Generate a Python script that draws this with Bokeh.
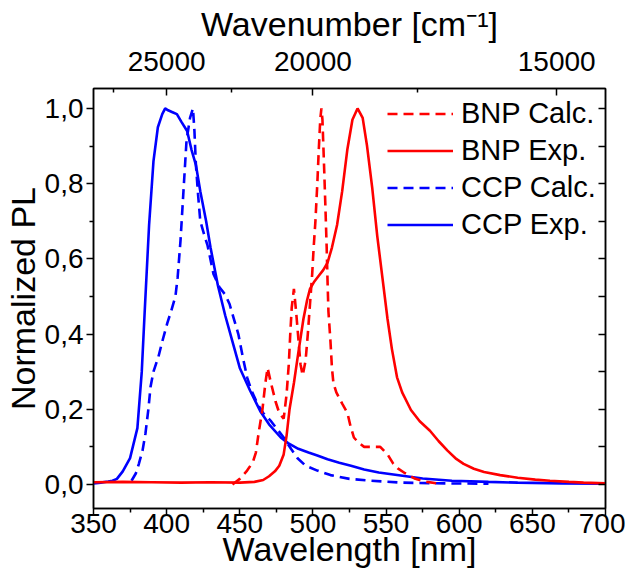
from bokeh.plotting import figure
from bokeh.models import (LinearAxis, FixedTicker, CustomJSTickFormatter, Legend,
                          LegendItem, Range1d)
from bokeh.embed import file_html
from bokeh.resources import INLINE

# ---------------- data ----------------
ccp_exp_wl = [350, 355, 360, 363, 366, 370, 375, 380, 383, 385, 388, 391, 394, 397,
              399, 401, 404, 407, 410, 414, 417, 420, 423, 427, 430, 435, 440, 445,
              450, 457, 464, 470, 478, 483, 490, 497, 503, 510, 518, 526, 535, 545,
              560, 575, 595, 620, 640, 670, 700]
ccp_exp = [0.003, 0.005, 0.008, 0.01, 0.015, 0.035, 0.07, 0.15, 0.3, 0.46, 0.69, 0.86,
           0.95, 0.985, 1.0, 0.995, 0.99, 0.985, 0.965, 0.94, 0.89, 0.85, 0.78, 0.70,
           0.63, 0.53, 0.45, 0.38, 0.31, 0.25, 0.195, 0.16, 0.125, 0.11, 0.095, 0.085,
           0.077, 0.067, 0.058, 0.05, 0.04, 0.032, 0.024, 0.016, 0.01, 0.007, 0.005,
           0.003, 0.002]

ccp_calc_wl = [376, 379, 381, 383.5, 385.5, 387.5, 389, 391, 394.4, 397, 400.5, 403,
               406, 407.5, 409.5, 411.5, 413.6, 416, 418, 419, 420, 421.5, 423, 426,
               428, 432, 436, 440, 443, 446, 449, 452, 455, 458, 462, 466, 471, 476,
               480, 485, 489.5, 495, 503, 512, 525, 540, 560, 590, 620]
ccp_calc = [0.01, 0.03, 0.055, 0.09, 0.135, 0.2, 0.26, 0.3, 0.34, 0.38, 0.43, 0.46,
            0.5, 0.55, 0.65, 0.78, 0.915, 0.975, 1.0, 0.94, 0.85, 0.77, 0.70, 0.66,
            0.635, 0.56, 0.525, 0.505, 0.48, 0.44, 0.40, 0.34, 0.285, 0.25, 0.215,
            0.19, 0.17, 0.145, 0.125, 0.095, 0.07, 0.05, 0.037, 0.025, 0.015, 0.01,
            0.005, 0.003, 0.002]

bnp_exp_wl = [350, 370, 390, 410, 430, 450, 460, 466, 470, 474, 477, 480, 482, 484,
              487, 490, 493.5, 496, 498, 501, 504, 507, 510, 513, 516.5, 520, 523.5,
              527, 530.5, 534, 537, 540.5, 544, 547.5, 551, 554, 557.5, 561, 567, 573,
              580, 586, 592, 598, 603, 610, 617, 628, 640, 652, 662, 675, 685, 700]
bnp_exp = [0.006, 0.007, 0.006, 0.005, 0.006, 0.005, 0.007, 0.012, 0.022, 0.035, 0.05,
           0.08, 0.13, 0.2, 0.27, 0.35, 0.44, 0.49, 0.52, 0.54, 0.555, 0.57, 0.59,
           0.63, 0.69, 0.78, 0.89, 0.97, 1.0, 0.975, 0.9, 0.79, 0.66, 0.55, 0.44,
           0.36, 0.285, 0.245, 0.198, 0.168, 0.143, 0.115, 0.09, 0.068, 0.055, 0.042,
           0.033, 0.025, 0.018, 0.013, 0.01, 0.007, 0.005, 0.003]

bnp_calc_wl = [445, 450, 455, 459, 461, 463, 465.5, 467.5, 469, 471, 474.5, 477, 480,
               482, 483.5, 484.5, 485.5, 487, 488.5, 490, 491.5, 493, 495, 496.5, 498,
               499.5, 500.5, 501.7, 503, 504, 505, 505.8, 506.5, 507.5, 508.6, 509.4,
               510, 510.6, 512, 513, 514, 516, 520, 523.6, 525.7, 528, 531, 535, 540,
               546, 551, 555, 558, 563, 570, 578, 585]
bnp_calc = [0.0, 0.015, 0.037, 0.06, 0.085, 0.14, 0.2, 0.27, 0.31, 0.275, 0.22, 0.19,
            0.175, 0.24, 0.32, 0.4, 0.47, 0.52, 0.46, 0.39, 0.32, 0.29, 0.33, 0.40,
            0.48, 0.56, 0.63, 0.7, 0.8, 0.89, 0.97, 1.0, 0.97, 0.86, 0.73, 0.63, 0.54,
            0.46, 0.38, 0.31, 0.27, 0.245, 0.215, 0.19, 0.155, 0.125, 0.112, 0.1, 0.1,
            0.1, 0.08, 0.055, 0.043, 0.03, 0.015, 0.007, 0.003]

x_ticks = [350, 400, 450, 500, 550, 600, 650, 700]
x_minor = [375, 425, 475, 525, 575, 625, 675]
y_ticks = [0.0, 0.2, 0.4, 0.6, 0.8, 1.0]
y_minor = [0.1, 0.3, 0.5, 0.7, 0.9]
wn_ticks = [25000, 20000, 15000]
wn_minor = [27500, 22500, 17500]

FONT = "Liberation Sans"
RED = "#ff0000"
BLUE = "#0000ff"

p = figure(width=625, height=581, output_backend="svg", toolbar_location=None,
           x_range=Range1d(350, 700), y_range=Range1d(-0.0638, 1.053),
           min_border_left=93, min_border_right=20, min_border_top=88,
           min_border_bottom=73)
p.grid.visible = False
p.outline_line_color = "black"
p.outline_line_width = 1.5
p.background_fill_color = "white"
p.border_fill_color = "white"


def style_axis(ax, inward=False):
    ax.axis_line_color = "black"
    ax.axis_line_width = 1.5
    ax.major_tick_line_color = "black"
    ax.minor_tick_line_color = "black"
    ax.major_tick_line_width = 1.5
    ax.minor_tick_line_width = 1.5
    if inward:
        ax.major_tick_in, ax.major_tick_out = 7, 0
        ax.minor_tick_in, ax.minor_tick_out = 4, 0
    else:
        ax.major_tick_in, ax.major_tick_out = 0, 7
        ax.minor_tick_in, ax.minor_tick_out = 0, 4
    ax.major_label_text_font = FONT
    ax.major_label_text_font_size = "28px"
    ax.major_label_text_color = "black"
    ax.axis_label_text_font = FONT
    ax.axis_label_text_font_size = "34px"
    ax.axis_label_text_font_style = "normal"
    ax.axis_label_text_color = "black"


xb = p.xaxis[0]
style_axis(xb)
xb.ticker = FixedTicker(ticks=x_ticks, minor_ticks=x_minor)
xb.axis_label = "Wavelength [nm]"
xb.major_label_standoff = -2
xb.axis_label_standoff = -6

yl = p.yaxis[0]
style_axis(yl)
yl.ticker = FixedTicker(ticks=y_ticks, minor_ticks=y_minor)
yl.formatter = CustomJSTickFormatter(code="return tick.toFixed(1).replace('.', ',');")
yl.axis_label = "Normalized PL"
yl.major_label_standoff = 3
yl.axis_label_standoff = 0

xt = LinearAxis(ticker=FixedTicker(ticks=[1e7 / w for w in wn_ticks],
                                   minor_ticks=[1e7 / w for w in wn_minor]),
                formatter=CustomJSTickFormatter(code="return Math.round(1e7 / tick).toString();"),
                axis_label="Wavenumber [cm\u207b\u00b9]")
style_axis(xt, inward=True)
xt.major_label_standoff = 18
xt.axis_label_standoff = 6
p.add_layout(xt, "above")

yr = LinearAxis(ticker=FixedTicker(ticks=y_ticks, minor_ticks=y_minor),
                formatter=CustomJSTickFormatter(code="return '';"))
style_axis(yr, inward=True)
yr.minor_tick_in = 7
yr.major_label_standoff = 0
p.add_layout(yr, "right")

DASH = "10 6"
r_ce = p.line(ccp_exp_wl, ccp_exp, line_color=BLUE, line_width=2.6)
r_cc = p.line(ccp_calc_wl, ccp_calc, line_color=BLUE, line_width=2.6, line_dash=DASH)
r_be = p.line(bnp_exp_wl, bnp_exp, line_color=RED, line_width=2.6)
r_bc = p.line(bnp_calc_wl, bnp_calc, line_color=RED, line_width=2.6, line_dash=DASH)

legend = Legend(items=[LegendItem(label="BNP Calc.", renderers=[r_bc]),
                       LegendItem(label="BNP Exp.", renderers=[r_be]),
                       LegendItem(label="CCP Calc.", renderers=[r_cc]),
                       LegendItem(label="CCP Exp.", renderers=[r_ce])],
                location=(294, 265), label_text_font=FONT, label_text_font_size="29px",
                label_text_color="black",
                glyph_width=66, glyph_height=37, label_height=37, label_standoff=8,
                spacing=0, padding=0, margin=0, border_line_color=None,
                background_fill_alpha=0)
p.add_layout(legend)

open("out.html", "w").write(file_html(p, INLINE))
